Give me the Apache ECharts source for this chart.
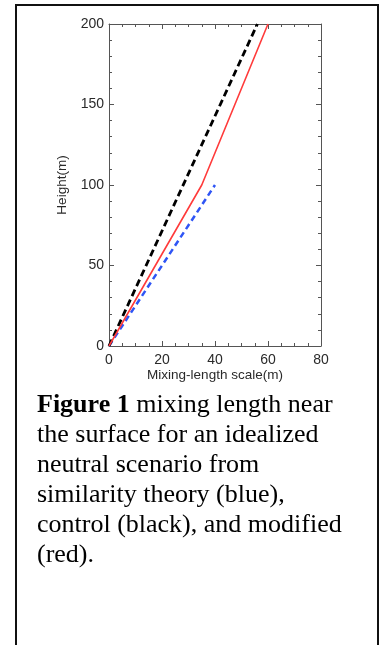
<!DOCTYPE html>
<html>
<head>
<meta charset="utf-8">
<script src="https://cdn.jsdelivr.net/npm/echarts@6/dist/echarts.min.js"></script>
<style>
    html, body { margin: 0; padding: 0; background: #fff; overflow: hidden; }
    #marco {
        position: absolute; left: 15px; top: 4px; width: 364px; height: 641px;
        box-sizing: border-box; border: 2px solid #111; border-bottom: none;
    }
    #grafico { position: absolute; left: 0; top: 0; width: 380px; height: 645px; }
    #leyenda {
        position: absolute; left: 37px; top: 389px;
        font-family: "Liberation Serif", serif; font-size: 26px; line-height: 30px;
        color: #000; white-space: nowrap;
    }
</style>
</head>
<body>
<div id="marco"></div>
<div id="grafico"></div>
<div id="leyenda"><b>Figure 1</b> mixing length near<br>the surface for an idealized<br>neutral scenario from<br>similarity theory (blue),<br>control (black), and modified<br>(red).</div>
<script>
// Datos: [longitud de mezcla (m), altura (m)]
const similaridadX = [0, 40];
const similaridadY = [0, 100];
const controlX = [0, 56];
const controlY = [0, 200];
const modificadoX = [0, 35, 60];
const modificadoY = [0, 100, 200];

const ticksX = [0, 20, 40, 60, 80];
const ticksY = [0, 50, 100, 150, 200];

const colorEje = '#555';
const colorTexto = '#2a2a2a';
const fuente = '"Liberation Sans", Arial, sans-serif';

// Juntar x e y en pares para la serie
const pares = (xs, ys) => xs.map((x, i) => [x, ys[i]]);

const chartDom = document.getElementById('grafico');
const myChart = echarts.init(chartDom, null, { renderer: 'canvas' });

// Ejes con marcas hacia adentro, como un marco cerrado
const ejeBase = {
    type: 'value',
    axisLine: { show: true, onZero: false, lineStyle: { color: colorEje, width: 1 } },
    axisTick: { show: true, inside: true, length: 5, lineStyle: { color: colorEje } },
    minorTick: { show: true, length: 3, lineStyle: { color: colorEje } },
    splitLine: { show: false },
    minorSplitLine: { show: false }
};

const option = {
    animation: false,
    grid: { left: 109, right: 59, top: 24, bottom: 299 },
    xAxis: [
        {
            ...ejeBase,
            position: 'bottom',
            min: ticksX[0],
            max: ticksX[ticksX.length - 1],
            interval: ticksX[1] - ticksX[0],
            minorTick: { ...ejeBase.minorTick, splitNumber: 4 },
            name: 'Mixing-length scale(m)',
            nameLocation: 'middle',
            nameGap: 22,
            nameTextStyle: { color: colorTexto, fontFamily: fuente, fontSize: 13.5 },
            axisLabel: { color: colorTexto, fontFamily: fuente, fontSize: 14, margin: 7 }
        },
        {
            ...ejeBase,
            position: 'top',
            min: ticksX[0],
            max: ticksX[ticksX.length - 1],
            interval: ticksX[1] - ticksX[0],
            minorTick: { ...ejeBase.minorTick, splitNumber: 4 },
            axisLabel: { show: false }
        }
    ],
    yAxis: [
        {
            ...ejeBase,
            position: 'left',
            min: ticksY[0],
            max: ticksY[ticksY.length - 1],
            interval: ticksY[1] - ticksY[0],
            minorTick: { ...ejeBase.minorTick, splitNumber: 5 },
            name: 'Height(m)',
            nameLocation: 'middle',
            nameGap: 34,
            nameTextStyle: { color: colorTexto, fontFamily: fuente, fontSize: 13.5 },
            axisLabel: { color: colorTexto, fontFamily: fuente, fontSize: 14, margin: 5 }
        },
        {
            ...ejeBase,
            position: 'right',
            min: ticksY[0],
            max: ticksY[ticksY.length - 1],
            interval: ticksY[1] - ticksY[0],
            minorTick: { ...ejeBase.minorTick, splitNumber: 5 },
            axisLabel: { show: false }
        }
    ],
    series: [
        {
            name: 'similarity',
            type: 'line',
            data: pares(similaridadX, similaridadY),
            symbol: 'none',
            lineStyle: { color: '#2f55f5', width: 2.5, type: [6, 4] }
        },
        {
            name: 'control',
            type: 'line',
            data: pares(controlX, controlY),
            symbol: 'none',
            lineStyle: { color: '#000', width: 2.8, type: [7, 4] }
        },
        {
            name: 'modified',
            type: 'line',
            data: pares(modificadoX, modificadoY),
            symbol: 'none',
            lineStyle: { color: '#ff3b3b', width: 1.6 }
        }
    ]
};

myChart.setOption(option);
</script>
</body>
</html>
